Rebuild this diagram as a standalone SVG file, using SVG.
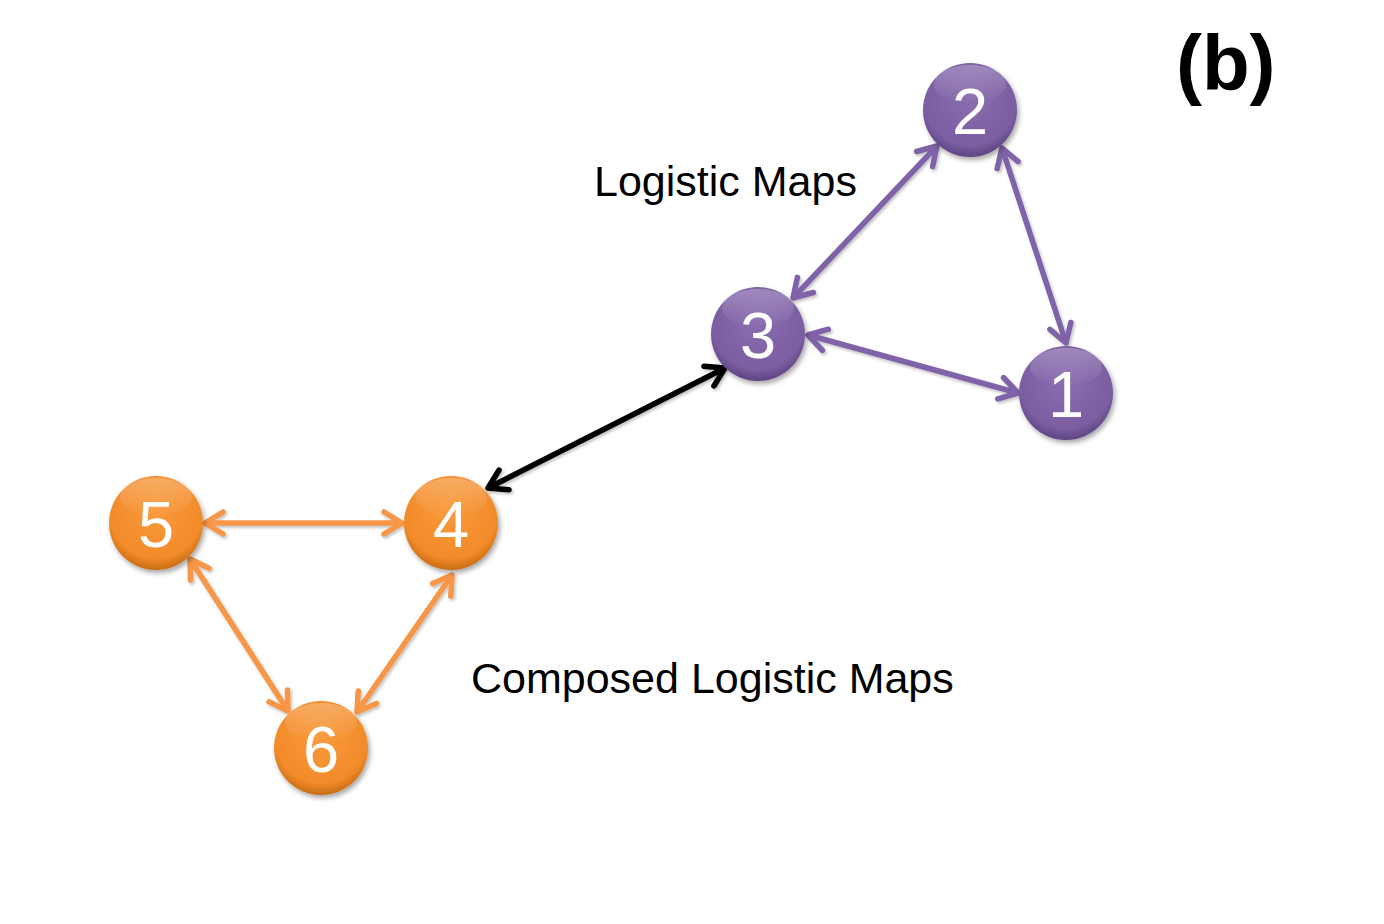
<svg xmlns="http://www.w3.org/2000/svg" width="1384" height="924" viewBox="0 0 1384 924">
<style>
.lbl{font-family:"Liberation Sans",Arial,sans-serif;font-size:43px;fill:#000}
.num{font-family:"Liberation Sans",Arial,sans-serif;font-size:65px;fill:#fff;text-anchor:middle}
.pl{stroke:#7F62A7;stroke-width:5.5;fill:none}
.ol{stroke:#F79646;stroke-width:5.5;fill:none}
.bl{stroke:#000;stroke-width:5.5;fill:none}
</style>
<defs>
<radialGradient id="gp" cx="50%" cy="38%" r="62%">
<stop offset="0" stop-color="#8A6DB0"/>
<stop offset="0.8" stop-color="#7B5EA2"/>
<stop offset="1" stop-color="#5E4582"/>
</radialGradient>
<radialGradient id="go" cx="50%" cy="38%" r="62%">
<stop offset="0" stop-color="#F99A3C"/>
<stop offset="0.8" stop-color="#F28B2A"/>
<stop offset="1" stop-color="#C86D14"/>
</radialGradient>
<linearGradient id="hl" x1="0" y1="0" x2="0" y2="1">
<stop offset="0" stop-color="#fff" stop-opacity="0.25"/>
<stop offset="1" stop-color="#fff" stop-opacity="0"/>
</linearGradient>
<filter id="sh" x="-30%" y="-30%" width="160%" height="160%">
<feDropShadow dx="2" dy="3" stdDeviation="2.5" flood-color="#000" flood-opacity="0.35"/>
</filter>
<filter id="ls" x="-10%" y="-10%" width="120%" height="120%">
<feDropShadow dx="1.5" dy="2" stdDeviation="1.5" flood-color="#000" flood-opacity="0.25"/>
</filter>
<marker id="ap" viewBox="0 0 28 28" refX="25" refY="14" markerWidth="28" markerHeight="28" markerUnits="userSpaceOnUse" orient="auto-start-reverse">
<path d="M7,3 L25,14 L7,25" fill="none" stroke="#7F62A7" stroke-width="5.5" stroke-linecap="round" stroke-linejoin="round"/>
</marker>
<marker id="ao" viewBox="0 0 28 28" refX="25" refY="14" markerWidth="28" markerHeight="28" markerUnits="userSpaceOnUse" orient="auto-start-reverse">
<path d="M7,3 L25,14 L7,25" fill="none" stroke="#F79646" stroke-width="5.5" stroke-linecap="round" stroke-linejoin="round"/>
</marker>
<marker id="ab" viewBox="0 0 28 28" refX="25" refY="14" markerWidth="28" markerHeight="28" markerUnits="userSpaceOnUse" orient="auto-start-reverse">
<path d="M7,3 L25,14 L7,25" fill="none" stroke="#000" stroke-width="5.5" stroke-linecap="round" stroke-linejoin="round"/>
</marker>
</defs>
<rect width="1384" height="924" fill="#fff"/>
<g id="connectors" filter="url(#ls)">
<line class="pl" x1="937" y1="146" x2="793" y2="298" marker-start="url(#ap)" marker-end="url(#ap)"/>
<line class="pl" x1="1002" y1="148" x2="1066" y2="343" marker-start="url(#ap)" marker-end="url(#ap)"/>
<line class="pl" x1="808" y1="335" x2="1018" y2="393" marker-start="url(#ap)" marker-end="url(#ap)"/>
<line class="bl" x1="725" y1="368" x2="488" y2="488" marker-start="url(#ab)" marker-end="url(#ab)"/>
<line class="ol" x1="205" y1="523" x2="402" y2="523" marker-start="url(#ao)" marker-end="url(#ao)"/>
<line class="ol" x1="190" y1="559" x2="288" y2="711" marker-start="url(#ao)" marker-end="url(#ao)"/>
<line class="ol" x1="452" y1="575" x2="357" y2="712" marker-start="url(#ao)" marker-end="url(#ao)"/>
</g>
<g id="node1"><circle cx="1066" cy="393" r="47" fill="url(#gp)" filter="url(#sh)"/><ellipse cx="1066" cy="367" rx="36" ry="19" fill="url(#hl)"/><text class="num" x="1066" y="417">1</text></g>
<g id="node2"><circle cx="970" cy="110" r="47" fill="url(#gp)" filter="url(#sh)"/><ellipse cx="970" cy="84" rx="36" ry="19" fill="url(#hl)"/><text class="num" x="970" y="134">2</text></g>
<g id="node3"><circle cx="758" cy="334" r="47" fill="url(#gp)" filter="url(#sh)"/><ellipse cx="758" cy="308" rx="36" ry="19" fill="url(#hl)"/><text class="num" x="758" y="358">3</text></g>
<g id="node4"><circle cx="451" cy="523" r="47" fill="url(#go)" filter="url(#sh)"/><ellipse cx="451" cy="497" rx="36" ry="19" fill="url(#hl)"/><text class="num" x="451" y="547">4</text></g>
<g id="node5"><circle cx="156" cy="523" r="47" fill="url(#go)" filter="url(#sh)"/><ellipse cx="156" cy="497" rx="36" ry="19" fill="url(#hl)"/><text class="num" x="156" y="547">5</text></g>
<g id="node6"><circle cx="321" cy="748" r="47" fill="url(#go)" filter="url(#sh)"/><ellipse cx="321" cy="722" rx="36" ry="19" fill="url(#hl)"/><text class="num" x="321" y="772">6</text></g>
<text class="lbl" x="594" y="196">Logistic Maps</text>
<text class="lbl" x="471" y="693">Composed Logistic Maps</text>
<text x="1176" y="90" font-family="'Liberation Sans',Arial,sans-serif" font-weight="bold" font-size="78" fill="#000">(b)</text>
</svg>
